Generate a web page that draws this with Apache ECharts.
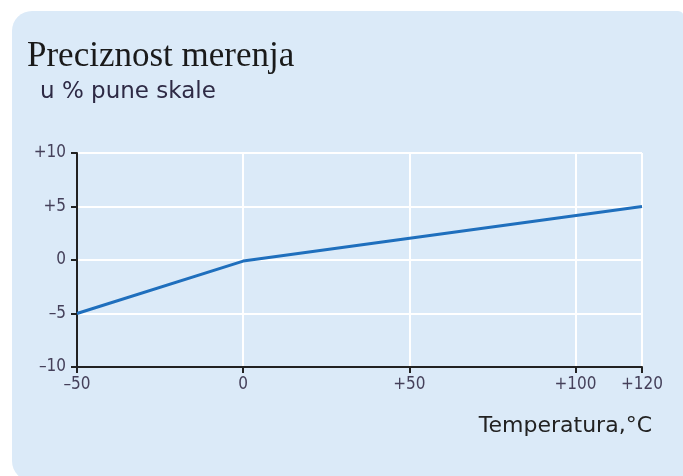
<!DOCTYPE html>
<html>
<head>
<meta charset="utf-8">
<script src="https://cdn.jsdelivr.net/npm/echarts@6/dist/echarts.min.js"></script>
<style>
  html, body { margin: 0; padding: 0; background: #fff; }
  #main { width: 683px; height: 476px; }
</style>
</head>
<body>
<div id="main"></div>
<script>
// temperature (°C) vs. measurement error (% of full scale)
var temps = [-50, 0, 120];
var errors = [-5, -0.1, 5];
var xTicks = [-50, 0, 50, 100, 120];
var yTicks = [-10, -5, 0, 5, 10];

function signed(v) {
  if (v > 0) return '+' + v;
  if (v < 0) return '\u2013' + Math.abs(v);
  return '0';
}

var myChart = echarts.init(document.getElementById('main'));

var labelStyle = {
  color: '#45405a',
  fontFamily: 'DejaVu Sans Condensed, Noto Sans, sans-serif',
  fontSize: 17
};

var option = {
  animation: false,
  graphic: [{
    type: 'rect',
    z: -10,
    shape: { x: 12, y: 11, width: 672, height: 470, r: [20, 6, 0, 20] },
    style: { fill: '#dbeaf8' }
  }],
  title: [{
    text: 'Preciznost merenja',
    left: 22,
    top: 34,
    textStyle: {
      fontFamily: 'Liberation Serif, serif',
      fontWeight: 'normal',
      fontSize: 35,
      color: '#1a1a1a'
    }
  }, {
    text: 'u % pune skale',
    left: 35,
    top: 76,
    textStyle: {
      fontFamily: 'DejaVu Sans, sans-serif',
      fontWeight: 'normal',
      fontSize: 23,
      color: '#2e2a45'
    }
  }],
  grid: { left: 77, right: 41, top: 153, bottom: 109 },
  xAxis: {
    type: 'value',
    min: xTicks[0],
    max: xTicks[xTicks.length - 1],
    interval: 50,
    name: 'Temperatura,\u00b0C',
    nameLocation: 'end',
    nameGap: 10,
    nameTextStyle: {
      fontFamily: 'DejaVu Sans, sans-serif',
      fontSize: 22,
      color: '#222',
      align: 'right',
      verticalAlign: 'top',
      padding: [48, 0, 0, 0]
    },
    axisLine: { onZero: false, lineStyle: { color: '#222', width: 2 } },
    axisTick: { show: true, length: 6, lineStyle: { color: '#222', width: 2 } },
    axisLabel: Object.assign({ margin: 9, formatter: signed, showMaxLabel: true }, labelStyle),
    splitLine: { show: true, lineStyle: { color: '#ffffff', width: 2 } }
  },
  yAxis: {
    type: 'value',
    min: yTicks[0],
    max: yTicks[yTicks.length - 1],
    interval: 5,
    axisLine: { show: true, onZero: false, lineStyle: { color: '#222', width: 2 } },
    axisTick: { show: true, length: 6, lineStyle: { color: '#222', width: 2 } },
    axisLabel: Object.assign({ margin: 11, formatter: signed }, labelStyle),
    splitLine: { show: true, lineStyle: { color: '#ffffff', width: 2 } }
  },
  series: [{
    type: 'line',
    data: temps.map(function (t, i) { return [t, errors[i]]; }),
    showSymbol: false,
    lineStyle: { color: '#1f6fbd', width: 3 }
  }]
};

myChart.setOption(option);
</script>
</body>
</html>
